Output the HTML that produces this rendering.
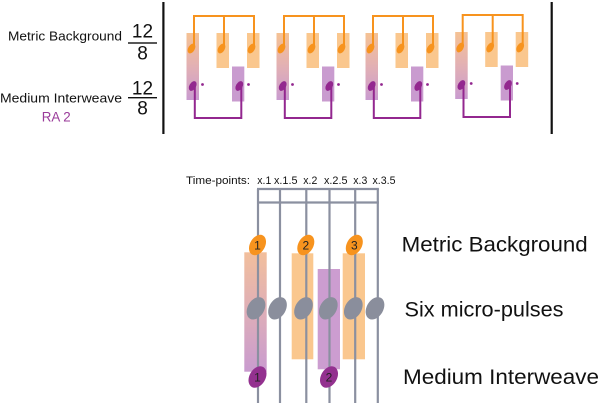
<!DOCTYPE html>
<html><head><meta charset="utf-8"><style>
html,body{margin:0;padding:0;background:#fff;}
svg{display:block;}
text{font-family:"Liberation Sans",sans-serif;}
</style></head><body>
<svg width="600" height="403" viewBox="0 0 600 403" xmlns="http://www.w3.org/2000/svg">
<defs>
<linearGradient id="g1" x1="0" y1="0" x2="0" y2="1">
<stop offset="0" stop-color="#f5c294"/>
<stop offset="0.5" stop-color="#e2b0b4"/>
<stop offset="1" stop-color="#c99bcf"/>
</linearGradient>
<linearGradient id="g2" x1="0" y1="0" x2="0" y2="1">
<stop offset="0" stop-color="#f2bf9c"/>
<stop offset="0.5" stop-color="#deaeb8"/>
<stop offset="1" stop-color="#c99bcf"/>
</linearGradient>
<g id="grp">
<rect x="-6.5" y="33" width="12.5" height="67" fill="url(#g1)"/>
<rect x="23.5" y="33" width="12.5" height="35" fill="#fac78e"/>
<rect x="54" y="33" width="12.5" height="35" fill="#fac78e"/>
<rect x="39" y="66.5" width="12.3" height="35" fill="#c99bcf"/>
<path d="M1,47 V16 H61 V47 M31,16 V47" fill="none" stroke="#f7931e" stroke-width="2"/>
<ellipse cx="-1.5" cy="48.5" rx="3.3" ry="5.3" transform="rotate(30 -1.5 48.5)" fill="#f7931e"/>
<ellipse cx="28.5" cy="48.5" rx="3.3" ry="5.3" transform="rotate(30 28.5 48.5)" fill="#f7931e"/>
<ellipse cx="58.5" cy="48.5" rx="3.3" ry="5.3" transform="rotate(30 58.5 48.5)" fill="#f7931e"/>
<path d="M1.8,85 V118 H48.3 V85" fill="none" stroke="#93278f" stroke-width="2"/>
<ellipse cx="-0.3" cy="86" rx="3.3" ry="5.3" transform="rotate(30 -0.3 86)" fill="#93278f"/>
<ellipse cx="46.3" cy="86" rx="3.3" ry="5.3" transform="rotate(30 46.3 86)" fill="#93278f"/>
<circle cx="9.5" cy="84.5" r="1.4" fill="#93278f"/>
<circle cx="55.5" cy="84.5" r="1.4" fill="#93278f"/>
</g>
</defs>

<!-- top-left labels -->
<text x="8" y="40.5" font-size="13" textLength="114" lengthAdjust="spacingAndGlyphs" fill="#111">Metric Background</text>
<text x="0" y="102.5" font-size="13" textLength="122" lengthAdjust="spacingAndGlyphs" fill="#111">Medium Interweave</text>
<text x="41.7" y="121.5" font-size="13.5" textLength="29" lengthAdjust="spacingAndGlyphs" fill="#9a3b9a">RA 2</text>

<text x="142.5" y="37.5" font-size="19" text-anchor="middle" fill="#111">12</text>
<rect x="128" y="42.3" width="29" height="1.4" fill="#111"/>
<text x="142.5" y="59.5" font-size="19" text-anchor="middle" fill="#111">8</text>
<text x="142.5" y="94.5" font-size="19" text-anchor="middle" fill="#111">12</text>
<rect x="128" y="97" width="29" height="1.4" fill="#111"/>
<text x="142.5" y="114.3" font-size="19" text-anchor="middle" fill="#111">8</text>

<rect x="162.3" y="2" width="2.2" height="132" fill="#111"/>
<rect x="550.6" y="2" width="2.2" height="132" fill="#111"/>

<use href="#grp" x="193" y="0"/>
<use href="#grp" x="283" y="0"/>
<use href="#grp" x="372" y="0"/>
<use href="#grp" x="461.7" y="-1"/>

<!-- bottom diagram -->
<text x="186" y="184" font-size="11" textLength="64" lengthAdjust="spacingAndGlyphs" fill="#111">Time-points:</text>
<text x="257.3" y="184" font-size="11" textLength="14" lengthAdjust="spacingAndGlyphs" fill="#111">x.1</text>
<text x="274" y="184" font-size="11" textLength="23.5" lengthAdjust="spacingAndGlyphs" fill="#111">x.1.5</text>
<text x="303.3" y="184" font-size="11" textLength="14" lengthAdjust="spacingAndGlyphs" fill="#111">x.2</text>
<text x="324" y="184" font-size="11" textLength="23.5" lengthAdjust="spacingAndGlyphs" fill="#111">x.2.5</text>
<text x="353.3" y="184" font-size="11" textLength="14" lengthAdjust="spacingAndGlyphs" fill="#111">x.3</text>
<text x="372.5" y="184" font-size="11" textLength="23" lengthAdjust="spacingAndGlyphs" fill="#111">x.3.5</text>

<rect x="244.3" y="252.3" width="22.4" height="119.4" fill="url(#g2)"/>
<rect x="291.7" y="253.3" width="21.6" height="106" fill="#fac78e"/>
<rect x="342.7" y="253.3" width="22.3" height="106" fill="#fac78e"/>
<rect x="317.7" y="269" width="22.3" height="100.3" fill="#cc9dd0"/>

<g stroke="#8b90a0" stroke-width="2.2" fill="none">
<path d="M258,189 V403 M280,189 V403 M306.3,189 V403 M329.5,189 V403 M355.2,189 V403 M377.8,189 V403"/>
<path d="M257,189 H378.9 M257,202.5 H378.9"/>
</g>

<g fill="#f7931e">
<ellipse cx="257.5" cy="245" rx="7.5" ry="11" transform="rotate(30 257.5 245)"/>
<ellipse cx="305.8" cy="245" rx="7.5" ry="11" transform="rotate(30 305.8 245)"/>
<ellipse cx="354.3" cy="245" rx="7.5" ry="11" transform="rotate(30 354.3 245)"/>
</g>
<g font-size="12" fill="#222" text-anchor="middle">
<text x="257.5" y="249.5">1</text>
<text x="305.8" y="249.5">2</text>
<text x="354.3" y="249.5">3</text>
</g>

<g fill="#8a8e9c">
<ellipse cx="256" cy="308.3" rx="8.3" ry="12" transform="rotate(30 256 308.3)"/>
<ellipse cx="277.5" cy="308.3" rx="8.3" ry="12" transform="rotate(30 277.5 308.3)"/>
<ellipse cx="303.5" cy="308.3" rx="8.3" ry="12" transform="rotate(30 303.5 308.3)"/>
<ellipse cx="328.3" cy="308.3" rx="8.3" ry="12" transform="rotate(30 328.3 308.3)"/>
<ellipse cx="353.3" cy="308.3" rx="8.3" ry="12" transform="rotate(30 353.3 308.3)"/>
<ellipse cx="375" cy="308.3" rx="8.3" ry="12" transform="rotate(30 375 308.3)"/>
</g>

<g fill="#93318f">
<ellipse cx="257.5" cy="377" rx="8" ry="11.5" transform="rotate(30 257.5 377)"/>
<ellipse cx="329" cy="377" rx="8" ry="11.5" transform="rotate(30 329 377)"/>
</g>
<g font-size="12" fill="#222" text-anchor="middle">
<text x="257.5" y="381.5">1</text>
<text x="329" y="381.5">2</text>
</g>

<text x="401.7" y="251.5" font-size="21" textLength="186" lengthAdjust="spacingAndGlyphs" fill="#111">Metric Background</text>
<text x="404.5" y="316.5" font-size="21" textLength="159" lengthAdjust="spacingAndGlyphs" fill="#111">Six micro-pulses</text>
<text x="403" y="384" font-size="21" textLength="196" lengthAdjust="spacingAndGlyphs" fill="#111">Medium Interweave</text>
</svg>
</body></html>
